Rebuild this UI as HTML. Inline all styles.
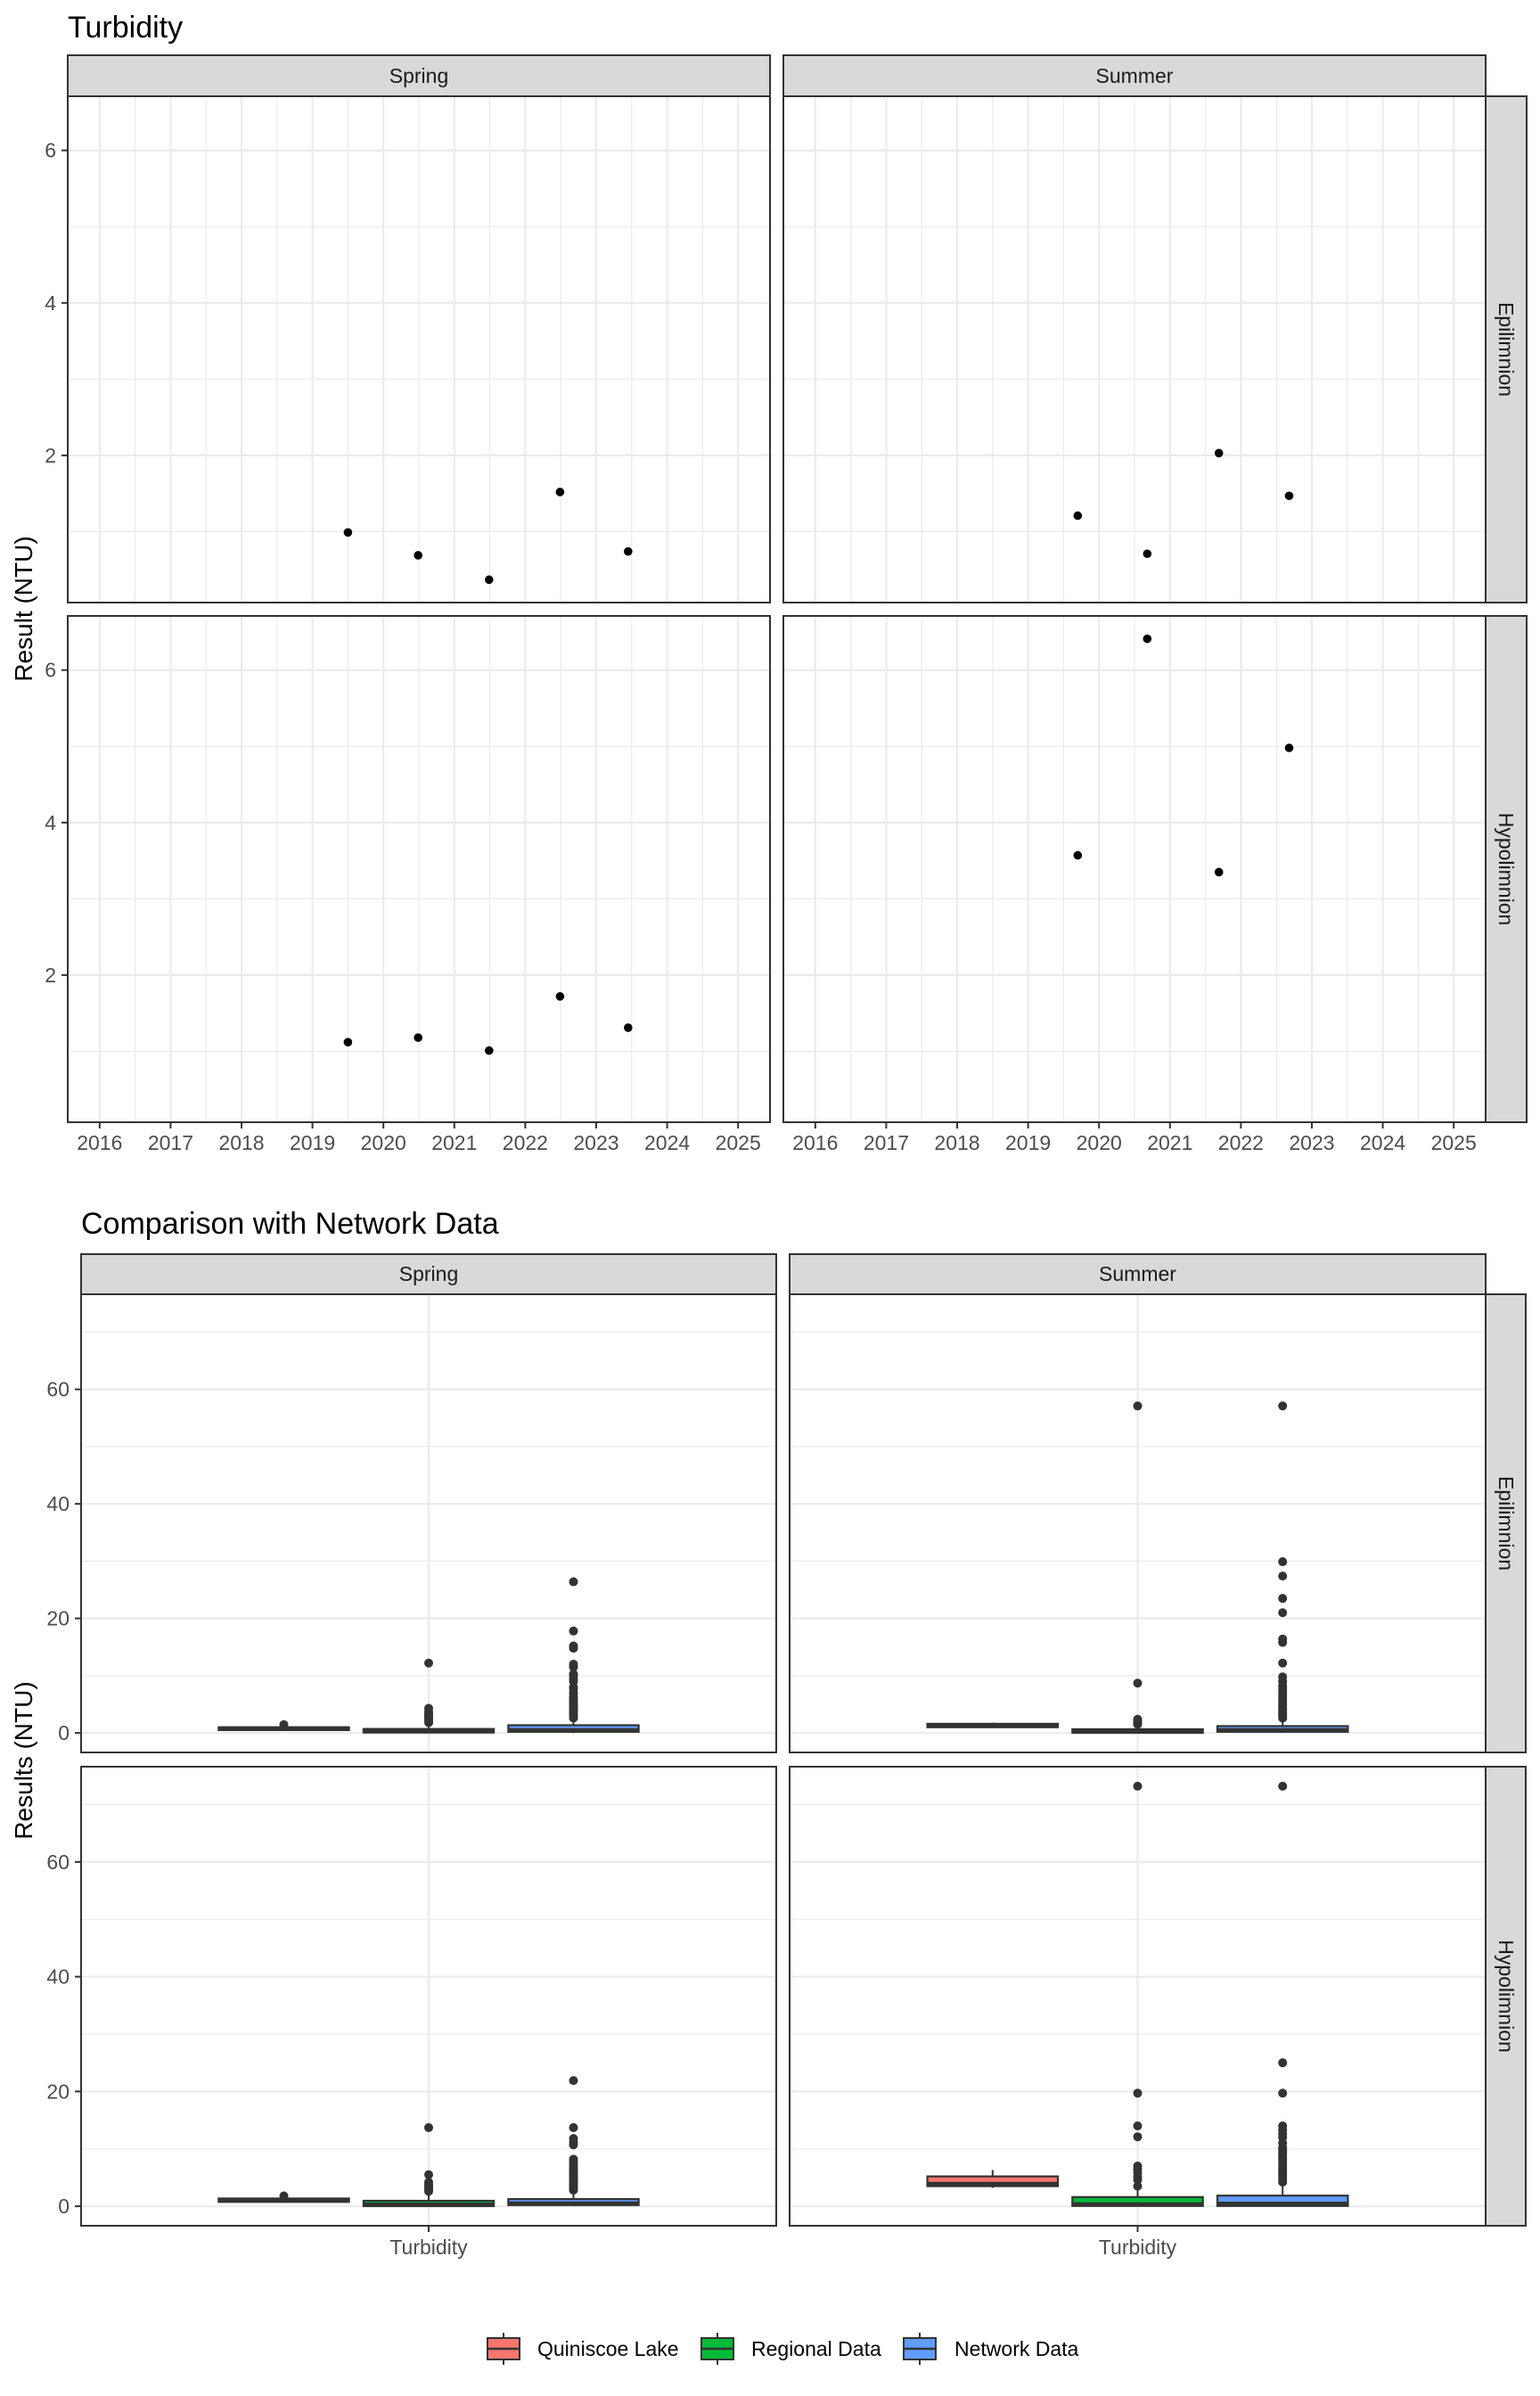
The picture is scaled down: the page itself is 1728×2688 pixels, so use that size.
<!DOCTYPE html>
<html><head><meta charset="utf-8"><style>
html,body{margin:0;padding:0;background:#fff}
svg{display:block;font-family:"Liberation Sans",Arial,sans-serif}
</style></head><body>
<svg id="s" width="1728" height="2688" viewBox="0 0 1728 2688" xmlns="http://www.w3.org/2000/svg">
<rect width="1728" height="2688" fill="#fff"/>
<text x="76" y="42" font-size="34" fill="#000">Turbidity</text>
<text transform="translate(36,683) rotate(-90)" text-anchor="middle" font-size="28" fill="#000">Result (NTU)</text>
<text x="91" y="1384" font-size="34" fill="#000">Comparison with Network Data</text>
<text transform="translate(36,1975) rotate(-90)" text-anchor="middle" font-size="28" fill="#000">Results (NTU)</text>
<g id="topchart"></g><g id="botchart"></g><g id="legend"></g>
</svg>
<script>
// ---- top chart data ----
const yearTicks = [2016,2017,2018,2019,2020,2021,2022,2023,2024,2025];
const yTicksTop = [2,4,6];
const springEpiYear = [2019.5,2020.49,2021.49,2022.49,2023.45];
const springEpiVal = [0.99,0.69,0.37,1.52,0.74];
const summerEpiYear = [2019.7,2020.68,2021.69,2022.68];
const summerEpiVal = [1.21,0.71,2.03,1.47];
const springHypoYear = [2019.5,2020.49,2021.49,2022.49,2023.45];
const springHypoVal = [1.12,1.18,1.01,1.72,1.31];
const summerHypoYear = [2019.7,2020.68,2021.69,2022.68];
const summerHypoVal = [3.57,6.41,3.35,4.98];
// ---- bottom chart data ----
const groups = ["Quiniscoe Lake","Regional Data","Network Data"];
const yTicksBot = [0,20,40,60];
// [lower, q1, median, q3, upper]
const springEpiBox = [[0.4,0.5,0.8,1.0,1.2],[0,0.1,0.25,0.7,1.5],[0,0.2,0.5,1.35,2.3]];
const springEpiOutQ = [1.45];
const springEpiOutR = [1.8,2.1,2.4,2.7,3.0,3.3,3.7,4.3,12.2];
const springEpiOutN = [2.6,2.9,3.2,3.5,3.8,4.1,4.4,4.7,5.0,5.3,5.6,6.0,6.4,7.0,7.7,8.0,9.0,9.5,10,10.3,11.5,12,14.8,15.2,17.8,26.4];
const summerEpiBox = [[0.9,1.0,1.3,1.6,1.8],[0,0.05,0.2,0.65,1.3],[0,0.2,0.5,1.2,2.4]];
const summerEpiOutQ = [];
const summerEpiOutR = [1.5,1.8,2.1,2.4,8.7,57.1];
const summerEpiOutN = [2.6,2.9,3.2,3.5,3.8,4.1,4.4,4.8,5.2,5.6,6.0,6.5,7.0,7.6,8.2,9.0,9.8,12.2,15.8,16.4,21.0,23.5,27.4,29.9,57.1];
const springHypoBox = [[0.6,0.75,1.0,1.35,1.5],[0,0.02,0.3,0.95,2.2],[0,0.2,0.5,1.25,2.5]];
const springHypoOutQ = [1.8];
const springHypoOutR = [2.6,2.9,3.2,3.5,3.8,4.2,5.5,13.7];
const springHypoOutN = [2.8,3.1,3.4,3.7,4.0,4.3,4.6,4.9,5.2,5.5,5.8,6.1,6.4,6.7,7.0,7.4,7.8,8.2,10.7,11.2,11.8,13.7,21.9];
const summerHypoBox = [[3.2,3.5,3.9,5.2,6.3],[0,0.05,0.35,1.6,2.9],[0,0.05,0.45,1.85,3.8]];
const summerHypoOutQ = [];
const summerHypoOutR = [3.5,4.6,5.1,5.9,6.4,7.0,12.1,14.0,19.7,73.2];
const summerHypoOutN = [4.2,4.6,5.0,5.4,5.8,6.2,6.6,7.0,7.4,7.8,8.2,8.6,9.0,9.4,9.8,10.2,11.0,12.0,12.6,13.3,14.0,19.7,25.0,73.2];
const fills = ["#F8766D","#00BA38","#619CFF"];

const NS="http://www.w3.org/2000/svg";
function mk(parent,tag,attrs,text){const e=document.createElementNS(NS,tag);for(const k in attrs)e.setAttribute(k,attrs[k]);if(text!==undefined)e.textContent=text;parent.appendChild(e);return e;}

// ---------- TOP CHART ----------
const topG=document.getElementById('topchart');
const tCols=[{x0:76,x1:864,name:'Spring'},{x0:879,x1:1667,name:'Summer'}];
const tRows=[{y0:108,y1:676,name:'Epilimnion'},{y0:691,y1:1259,name:'Hypolimnion'}];
const xDom=[2015.55,2025.45], yDomT=[0.07,6.71];
const tData=[[[springEpiYear,springEpiVal],[summerEpiYear,summerEpiVal]],[[springHypoYear,springHypoVal],[summerHypoYear,summerHypoVal]]];
tCols.forEach((c,ci)=>{
  const st=mk(topG,'rect',{x:c.x0,y:62,width:c.x1-c.x0,height:46,fill:'#D9D9D9',stroke:'#333',"stroke-width":2});
  
  
  const tx=mk(topG,'text',{x:(c.x0+c.x1)/2,y:93,"text-anchor":"middle","font-size":23,fill:'#1A1A1A'},c.name);
  
  
});
tRows.forEach((r,ri)=>{
  const ys=v=>r.y1-(v-yDomT[0])/(yDomT[1]-yDomT[0])*(r.y1-r.y0);
  const st=mk(topG,'rect',{x:1667,y:r.y0,width:46,height:r.y1-r.y0,fill:'#D9D9D9',stroke:'#333',"stroke-width":2});
  
  
  const tx=mk(topG,'text',{transform:`translate(1682,${(r.y0+r.y1)/2}) rotate(90)`,"text-anchor":"middle","font-size":23,fill:'#1A1A1A'},r.name);
  
  
  tCols.forEach((c,ci)=>{
    const xsc=v=>c.x0+(v-xDom[0])/(xDom[1]-xDom[0])*(c.x1-c.x0);
    const g=mk(topG,'g',{});
    
    
    for(let v=1;v<=7;v+=2){const y=ys(v);if(y>r.y0&&y<r.y1)mk(g,'line',{x1:c.x0,x2:c.x1,y1:y,y2:y,stroke:'#EBEBEB',"stroke-width":1.2});}
    yearTicks.forEach(yr=>{const xx=xsc(yr+0.5);if(xx<c.x1)mk(g,'line',{x1:xx,x2:xx,y1:r.y0,y2:r.y1,stroke:'#EBEBEB',"stroke-width":1.2});});
    yTicksTop.forEach(v=>{const y=ys(v);mk(g,'line',{x1:c.x0,x2:c.x1,y1:y,y2:y,stroke:'#EBEBEB',"stroke-width":2.2});});
    yearTicks.forEach(yr=>{const xx=xsc(yr);mk(g,'line',{x1:xx,x2:xx,y1:r.y0,y2:r.y1,stroke:'#EBEBEB',"stroke-width":2.2});});
    const [xa,ya]=tData[ri][ci];
    xa.forEach((yr,i)=>{
      const p=mk(g,'circle',{cx:xsc(yr),cy:ys(ya[i]),r:4.8,fill:'#000'});
      
      
    });
    mk(g,'rect',{x:c.x0,y:r.y0,width:c.x1-c.x0,height:r.y1-r.y0,fill:'none',stroke:'#333',"stroke-width":2});
    if(ci===0){
      yTicksTop.forEach(v=>{const y=ys(v);mk(g,'line',{x1:69,x2:76,y1:y,y2:y,stroke:'#333',"stroke-width":2});
        const t=mk(g,'text',{x:63,y:y+8,"text-anchor":"end","font-size":23,fill:'#4D4D4D'},String(v));
        
        });
    }
    if(ri===1){
      yearTicks.forEach(yr=>{const xx=xsc(yr);mk(g,'line',{x1:xx,x2:xx,y1:r.y1,y2:r.y1+7,stroke:'#333',"stroke-width":2});
        const t=mk(g,'text',{x:xx,y:r.y1+31,"text-anchor":"middle","font-size":23,fill:'#4D4D4D'},String(yr));
        
        });
    }
  });
});

// ---------- BOTTOM CHART ----------
const botG=document.getElementById('botchart');
const bCols=[{x0:91,x1:871,name:'Spring'},{x0:886,x1:1667,name:'Summer'}];
const bRows=[{y0:1452,y1:1966,name:'Epilimnion'},{y0:1982,y1:2497,name:'Hypolimnion'}];
const yDomB=[-3.4,76.6];
const bBox=[[springEpiBox,summerEpiBox],[springHypoBox,summerHypoBox]];
const bOut=[[[springEpiOutQ,springEpiOutR,springEpiOutN],[summerEpiOutQ,summerEpiOutR,summerEpiOutN]],[[springHypoOutQ,springHypoOutR,springHypoOutN],[summerHypoOutQ,summerHypoOutR,summerHypoOutN]]];
bCols.forEach(c=>{
  const st=mk(botG,'rect',{x:c.x0,y:1407,width:c.x1-c.x0,height:45,fill:'#D9D9D9',stroke:'#333',"stroke-width":2});
  
  
  const tx=mk(botG,'text',{x:(c.x0+c.x1)/2,y:1437,"text-anchor":"middle","font-size":23,fill:'#1A1A1A'},c.name);
  
  
});
bRows.forEach((r,ri)=>{
  const ys=v=>r.y1-(v-yDomB[0])/(yDomB[1]-yDomB[0])*(r.y1-r.y0);
  const st=mk(botG,'rect',{x:1667,y:r.y0,width:45,height:r.y1-r.y0,fill:'#D9D9D9',stroke:'#333',"stroke-width":2});
  
  
  const tx=mk(botG,'text',{transform:`translate(1682,${(r.y0+r.y1)/2}) rotate(90)`,"text-anchor":"middle","font-size":23,fill:'#1A1A1A'},r.name);
  
  
  bCols.forEach((c,ci)=>{
    const cx=(c.x0+c.x1)/2, unit=(c.x1-c.x0)/1.2;
    const g=mk(botG,'g',{});
    
    
    [10,30,50,70].forEach(v=>{const y=ys(v);mk(g,'line',{x1:c.x0,x2:c.x1,y1:y,y2:y,stroke:'#EBEBEB',"stroke-width":1.2});});
    yTicksBot.forEach(v=>{const y=ys(v);mk(g,'line',{x1:c.x0,x2:c.x1,y1:y,y2:y,stroke:'#EBEBEB',"stroke-width":2.2});});
    mk(g,'line',{x1:cx,x2:cx,y1:r.y0,y2:r.y1,stroke:'#EBEBEB',"stroke-width":2.2});
    const boxes=bBox[ri][ci], outs=bOut[ri][ci];
    boxes.forEach((b,k)=>{
      const bx=cx+(k-1)*0.25*unit, bw=0.25*unit*0.9;
      const bg=mk(g,'g',{});
      
      
      mk(bg,'line',{x1:bx,x2:bx,y1:ys(b[3]),y2:ys(b[4]),stroke:'#333',"stroke-width":2});
      mk(bg,'line',{x1:bx,x2:bx,y1:ys(b[1]),y2:ys(b[0]),stroke:'#333',"stroke-width":2});
      mk(bg,'rect',{x:bx-bw/2,y:ys(b[3]),width:bw,height:Math.max(ys(b[1])-ys(b[3]),0.5),fill:fills[k],stroke:'#333',"stroke-width":2.2});
      mk(bg,'line',{x1:bx-bw/2,x2:bx+bw/2,y1:ys(b[2]),y2:ys(b[2]),stroke:'#333',"stroke-width":4.4});
      outs[k].forEach(v=>{
        const o=mk(bg,'circle',{cx:bx,cy:ys(v),r:5,fill:'#333'});
        
        
      });
    });
    mk(g,'rect',{x:c.x0,y:r.y0,width:c.x1-c.x0,height:r.y1-r.y0,fill:'none',stroke:'#333',"stroke-width":2});
    if(ci===0){
      yTicksBot.forEach(v=>{const y=ys(v);mk(g,'line',{x1:84,x2:91,y1:y,y2:y,stroke:'#333',"stroke-width":2});
        const t=mk(g,'text',{x:78,y:y+8,"text-anchor":"end","font-size":23,fill:'#4D4D4D'},String(v));
        
        });
    }
    if(ri===1){
      mk(g,'line',{x1:cx,x2:cx,y1:r.y1,y2:r.y1+7,stroke:'#333',"stroke-width":2});
      const t=mk(g,'text',{x:cx,y:r.y1+32,"text-anchor":"middle","font-size":23,fill:'#4D4D4D'},'Turbidity');
      
      
    }
  });
});

// ---------- LEGEND ----------
const lg=document.getElementById('legend');


const keyX=[547,787,1014], labX=[603,843,1071];
groups.forEach((gname,k)=>{
  const e=mk(lg,'g',{});
  
  
  const kx=keyX[k];
  mk(e,'line',{x1:kx+18,x2:kx+18,y1:2617,y2:2653,stroke:'#333',"stroke-width":2});
  mk(e,'rect',{x:kx,y:2623,width:36,height:24,fill:fills[k],stroke:'#333',"stroke-width":2});
  mk(e,'line',{x1:kx,x2:kx+36,y1:2635,y2:2635,stroke:'#333',"stroke-width":2.5});
  mk(e,'text',{x:labX[k],y:2643,"font-size":23,fill:'#000'},gname);
});
</script>
</body></html>
